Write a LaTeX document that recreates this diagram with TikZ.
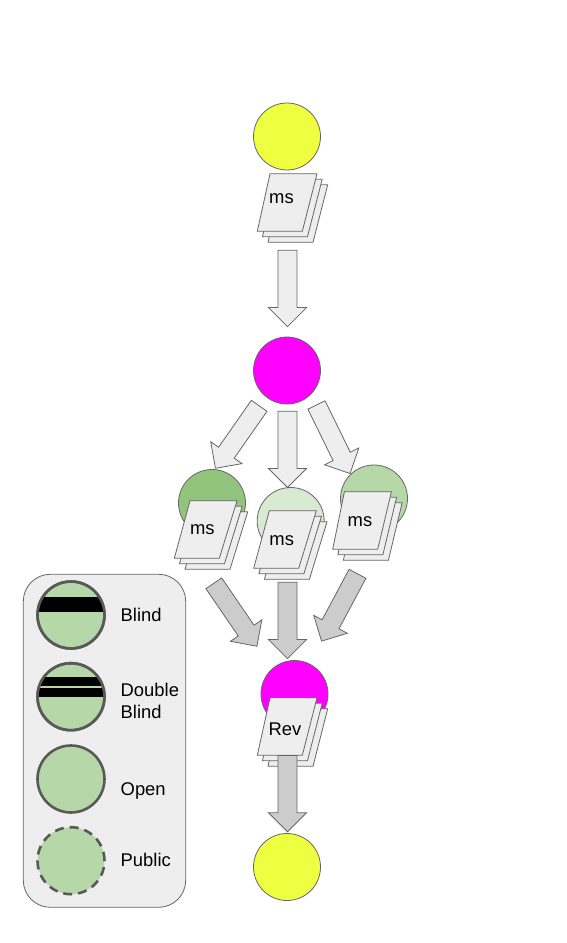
\documentclass[tikz,border=0pt]{standalone}
\usepackage{fontspec}
\setmainfont{Liberation Sans}
\usetikzlibrary{shapes.arrows}

\definecolor{edgegrey}{HTML}{666666}
\definecolor{ringgrey}{HTML}{595959}
\definecolor{sheetgrey}{HTML}{EEEEEE}
\definecolor{darkgrey}{HTML}{CCCCCC}
\definecolor{authoryellow}{HTML}{EEFF41}
\definecolor{editormagenta}{HTML}{FF00FF}
\definecolor{greenA}{HTML}{93C47D}
\definecolor{greenB}{HTML}{B6D7A8}
\definecolor{greenC}{HTML}{D9EAD3}

\tikzset{
  person/.style={circle,draw=edgegrey,line width=0.8pt,inner sep=0pt,minimum size=67pt},
  legendmark/.style={circle,draw=ringgrey,fill=greenB,line width=2.6pt,inner sep=0pt,minimum size=67pt},
  blockarrow/.style={single arrow,draw=edgegrey,line width=0.8pt,fill=sheetgrey,inner sep=9.15pt,
    outer sep=0pt,minimum width=37.3pt,minimum height=76.3pt,single arrow head extend=9.5pt,anchor=tail},
  reviewarrow/.style={blockarrow,fill=darkgrey},
  sheet/.style={draw=edgegrey,line width=0.8pt,fill=sheetgrey},
  doclabel/.style={font=\fontsize{18.4}{20}\selectfont,inner sep=0pt},
  legendlabel/.style={font=\fontsize{18.4}{22.7}\selectfont,inner sep=0pt,align=left,anchor=base west}
}

% #1,#2 lower left corner of the front sheet, #3 slant
\newcommand{\docstack}[3]{
  \foreach \dx/\dy in {10.7/11,5.2/5.4,0/0}
    \draw[sheet,shift={(#1+\dx,#2+\dy)}] (0,0) -- (#3,-57.5) -- (#3+47,-57.5) -- (45,0) -- cycle;
}

\begin{document}
\begin{tikzpicture}[x=1pt,y=-1pt]
  \useasboundingbox (0,0) rectangle (566,943);

  % legend
  \draw[draw=edgegrey,line width=0.8pt,fill=sheetgrey,rounded corners=27pt]
    (23.3,574.3) rectangle (185.7,907.3);

  \node[legendmark] (blind) at (71,615) {};
  \begin{scope}
    \clip (71,615) circle (33.5);
    \fill[black] (30,597.3) rectangle (110,612.3);
  \end{scope}
  \node[legendmark,fill=none] at (71,615) {};

  \node[legendmark] (double) at (71,696.7) {};
  \begin{scope}
    \clip (71,696.7) circle (33.5);
    \fill[black] (30,677.3) rectangle (110,685.7);
    \fill[black] (30,688.3) rectangle (110,697);
  \end{scope}
  \node[legendmark,fill=none] at (71,696.7) {};

  \node[legendmark] (open) at (71,779) {};
  \node[legendmark,dashed,dash pattern=on 9pt off 6pt] (public) at (71,860.7) {};

  \node[legendlabel] (blindtext) at (120.5,621) {Blind};
  \node[legendlabel] (doubletext) at (120.5,696) {Double};
  \node[legendlabel] (doubletextb) at (120.5,718.5) {Blind};
  \node[legendlabel] (opentext) at (120.5,795) {Open};
  \node[legendlabel] (publictext) at (120.5,866) {Public};

  % authors and editors
  \node[person,fill=authoryellow] (author) at (287,136.5) {};
  \node[person,fill=editormagenta] (editor) at (287,370.5) {};
  \node[person,fill=greenA] (revA) at (212,503) {};
  \node[person,fill=greenC] (revB) at (290.7,521) {};
  \node[person,fill=greenB] (revC) at (374,498.5) {};
  \node[person,fill=editormagenta] (editorb) at (294.5,694) {};
  \node[person,fill=authoryellow] (authorb) at (287,867) {};

  % manuscripts
  \docstack{257.3}{231.3}{12.7}
  \node[doclabel] (msA) at (281.5,199) {ms};
  \docstack{174.3}{558.3}{15.7}
  \node[doclabel] (msB) at (202.3,530) {ms};
  \docstack{253.7}{568.3}{15.6}
  \node[doclabel] (msC) at (281.7,541) {ms};
  \docstack{332.7}{549.3}{11.7}
  \node[doclabel] (msD) at (360,521.5) {ms};
  \docstack{257.3}{755.3}{12.7}
  \node[doclabel] (rev) at (285,729.5) {Rev};

  % flow
  \node[blockarrow,rotate=-90] (toeditor) at (287.5,250.3) {};
  \node[blockarrow,rotate=235] (toA) at (259.2,405.8) {};
  \node[blockarrow,rotate=-90] (toB) at (287.5,411.2) {};
  \node[blockarrow,rotate=-63.9] (toC) at (316.5,405) {};
  \node[reviewarrow,rotate=-55.6] (fromA) at (213.8,583.3) {};
  \node[reviewarrow,rotate=-90] (fromB) at (287.5,582.3) {};
  \node[reviewarrow,rotate=241.9] (fromC) at (357.5,573.8) {};
  \node[reviewarrow,rotate=-90] (toauthor) at (287.5,755.5) {};
\end{tikzpicture}
\end{document}
